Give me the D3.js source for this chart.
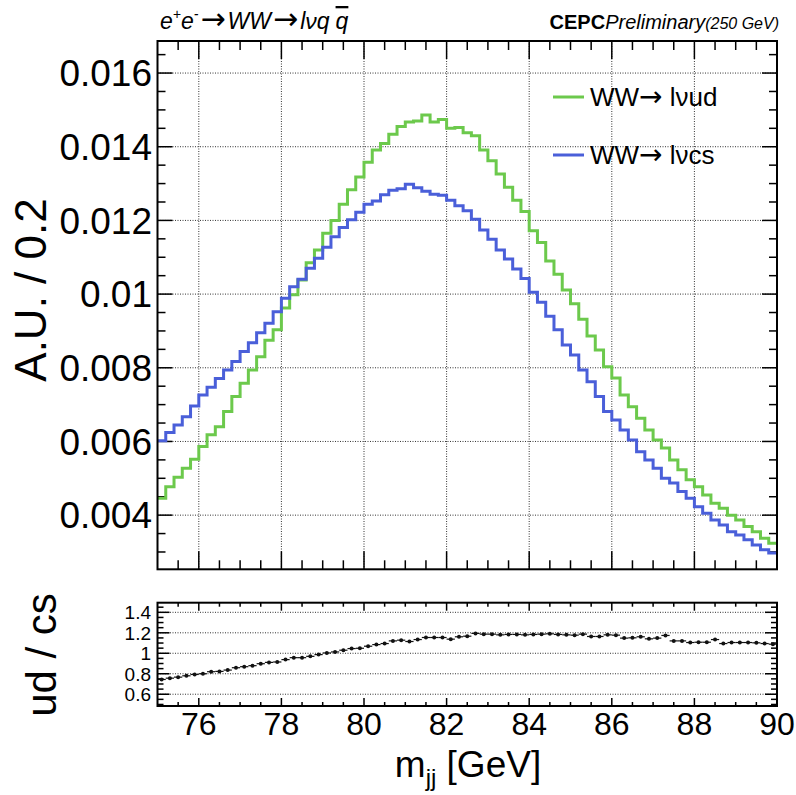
<!DOCTYPE html>
<html><head><meta charset="utf-8">
<script src="https://cdn.jsdelivr.net/npm/d3@7"></script>
<style>html,body{margin:0;padding:0;background:#fff;}svg{display:block;font-family:"Liberation Sans",Arial,Helvetica,sans-serif;}</style>
</head><body>
<svg id="c" width="796" height="795"></svg>
<script>
// ---- data ----
const binLow = 75, binWidth = 0.2;
const udValues = [0.00446,0.00477,0.00503,0.00527,0.00552,0.00586,0.00618,0.00640,0.00681,0.00722,
0.00758,0.00794,0.00830,0.00875,0.00903,0.00962,0.00998,0.01038,0.01085,0.01120,
0.01165,0.01200,0.01244,0.01283,0.01318,0.01358,0.01391,0.01409,0.01434,0.01455,
0.01467,0.01470,0.01486,0.01467,0.01474,0.01450,0.01452,0.01438,0.01430,0.01391,
0.01362,0.01326,0.01290,0.01255,0.01224,0.01172,0.01140,0.01090,0.01054,0.01011,
0.00974,0.00932,0.00886,0.00848,0.00803,0.00772,0.00726,0.00694,0.00663,0.00631,
0.00604,0.00582,0.00550,0.00523,0.00496,0.00477,0.00455,0.00432,0.00419,0.00400,
0.00387,0.00369,0.00355,0.00337,0.00324];
const csValues = [0.00602,0.00624,0.00645,0.00667,0.00696,0.00726,0.00747,0.00771,0.00794,0.00817,
0.00844,0.00868,0.00895,0.00921,0.00952,0.00989,0.01020,0.01040,0.01070,0.01097,
0.01127,0.01156,0.01181,0.01202,0.01222,0.01244,0.01253,0.01270,0.01282,0.01286,
0.01298,0.01289,0.01279,0.01271,0.01268,0.01255,0.01240,0.01226,0.01203,0.01174,
0.01149,0.01120,0.01095,0.01068,0.01042,0.01005,0.00978,0.00940,0.00903,0.00862,
0.00835,0.00794,0.00762,0.00722,0.00681,0.00658,0.00631,0.00604,0.00572,0.00550,
0.00527,0.00500,0.00487,0.00464,0.00446,0.00423,0.00405,0.00387,0.00373,0.00355,
0.00346,0.00333,0.00319,0.00306,0.00297];
const ratioValues = [0.744,0.757,0.767,0.780,0.793,0.800,0.820,0.823,0.836,0.859,
0.869,0.879,0.898,0.911,0.915,0.938,0.957,0.957,0.970,0.987,
1.003,1.013,1.030,1.046,1.049,1.069,1.085,1.095,1.121,1.128,
1.115,1.134,1.154,1.154,1.154,1.138,1.161,1.167,1.194,1.187,
1.187,1.180,1.184,1.184,1.180,1.184,1.187,1.190,1.184,1.180,
1.177,1.187,1.164,1.164,1.180,1.177,1.148,1.151,1.161,1.141,
1.148,1.174,1.121,1.121,1.105,1.108,1.108,1.134,1.095,1.105,
1.105,1.105,1.102,1.095,1.089];
const xTicks = [76,78,80,82,84,86,88,90];
const yTicks = [0.004,0.006,0.008,0.010,0.012,0.014,0.016];
const yTickLabels = ["0.004","0.006","0.008","0.01","0.012","0.014","0.016"];
const rTicks = [0.6,0.8,1.0,1.2,1.4];
const rTickLabels = ["0.6","0.8","1","1.2","1.4"];
const series = [
  {name:"l\u03bdud", values: udValues, color:"#6cc94c"},
  {name:"l\u03bdcs", values: csValues, color:"#4a5fd9"}
];

// ---- layout ----
const svg = d3.select("#c");
const L = 157.5, R = 777;
const mT = 41, mB = 569.3;
const rT = 602.7, rB = 706;
const x = d3.scaleLinear().domain([75,90]).range([L,R]);
const y = d3.scaleLinear().domain([0.00253,0.01687]).range([mB,mT]);
const yr = d3.scaleLinear().domain([0.485,1.494]).range([rB,rT]);
const gridStyle = s => s.attr("stroke","#333").attr("stroke-width",1).attr("stroke-dasharray","1,1.5");

// main grid
svg.append("g").selectAll("line").data(xTicks.filter(d=>d<90)).join("line")
  .attr("x1",d=>x(d)).attr("x2",d=>x(d)).attr("y1",mT).attr("y2",mB).call(gridStyle);
svg.append("g").selectAll("line").data(yTicks).join("line")
  .attr("x1",L).attr("x2",R).attr("y1",d=>y(d)).attr("y2",d=>y(d)).call(gridStyle);

// main ticks (all four sides, inward)
const xMinor = d3.range(75.5,90,0.5).filter(v=>Math.abs(v-Math.round(v/2)*2)>1e-6);
const tickG = svg.append("g").attr("stroke","#000").attr("stroke-width",1.5);
xTicks.forEach(v=>{
  tickG.append("line").attr("x1",x(v)).attr("x2",x(v)).attr("y1",mB).attr("y2",mB-18);
  tickG.append("line").attr("x1",x(v)).attr("x2",x(v)).attr("y1",mT).attr("y2",mT+18);
});
xMinor.forEach(v=>{
  tickG.append("line").attr("x1",x(v)).attr("x2",x(v)).attr("y1",mB).attr("y2",mB-9);
  tickG.append("line").attr("x1",x(v)).attr("x2",x(v)).attr("y1",mT).attr("y2",mT+9);
});
const yMinorAll = d3.range(0.0030,0.0169,0.0005);
yMinorAll.forEach(v=>{
  const major = yTicks.some(t=>Math.abs(t-v)<1e-7);
  const len = major?15:8;
  tickG.append("line").attr("x1",L).attr("x2",L+len).attr("y1",y(v)).attr("y2",y(v));
  tickG.append("line").attr("x1",R).attr("x2",R-len).attr("y1",y(v)).attr("y2",y(v));
});

// histograms
series.forEach(s=>{
  const pts = s.values.map((v,i)=>[binLow+i*binWidth, v]);
  pts.push([binLow+s.values.length*binWidth, s.values[s.values.length-1]]);
  const line = d3.line().x(d=>x(d[0])).y(d=>y(d[1])).curve(d3.curveStepAfter);
  svg.append("path").attr("d",line(pts)).attr("fill","none")
    .attr("stroke",s.color).attr("stroke-width",3);
});

// main frame
svg.append("rect").attr("x",L).attr("y",mT).attr("width",R-L).attr("height",mB-mT)
  .attr("fill","none").attr("stroke","#000").attr("stroke-width",2);

// y tick labels
svg.append("g").selectAll("text").data(yTicks).join("text")
  .attr("x",152).attr("y",d=>y(d)).attr("dy","0.36em").attr("text-anchor","end")
  .attr("font-size",37).text((d,i)=>yTickLabels[i]);
// y title
svg.append("text").attr("transform","translate(46,290) rotate(-90)")
  .attr("text-anchor","middle").attr("font-size",44).text("A.U. / 0.2");

// legend
const legY = [97,155];
series.forEach((s,i)=>{
  svg.append("line").attr("x1",553).attr("x2",584).attr("y1",legY[i]).attr("y2",legY[i])
    .attr("stroke",s.color).attr("stroke-width",3);
  const t = svg.append("text").attr("x",590).attr("y",legY[i]).attr("dy","0.36em").attr("font-size",26);
  t.append("tspan").text("WW");
  t.append("tspan").attr("font-family","DejaVu Sans").attr("font-size",28).text("\u2192");
  t.append("tspan").text(" " + s.name);
});

// header texts
const t1 = svg.append("text").attr("x",160).attr("y",29).attr("font-size",23).attr("font-style","italic");
const arrow = (sel, dy) => sel.append("tspan").attr("dy",dy).attr("dx",2).attr("font-family","DejaVu Sans")
  .attr("font-style","normal").attr("font-size",30).text("\u2192");
t1.append("tspan").text("e");
t1.append("tspan").attr("font-size",14).attr("dy",-10).text("+");
t1.append("tspan").attr("dy",10).text("e");
t1.append("tspan").attr("font-size",14).attr("dy",-10).text("-");
arrow(t1, 10);
t1.append("tspan").attr("dx",2).text("WW");
arrow(t1, 0);
t1.append("tspan").attr("dx",2).text("l\u03bdq");
t1.append("tspan").attr("dx",6).attr("text-decoration","overline").text("q");
const t2 = svg.append("text").attr("x",779).attr("y",29).attr("text-anchor","end").attr("font-size",20);
t2.append("tspan").attr("font-weight","bold").text("CEPC");
t2.append("tspan").attr("font-style","italic").text("Preliminary");
t2.append("tspan").attr("font-style","italic").attr("font-size",16).text("(250 GeV)");

// ---- ratio panel ----
svg.append("g").selectAll("line").data(rTicks).join("line")
  .attr("x1",L).attr("x2",R).attr("y1",d=>yr(d)).attr("y2",d=>yr(d)).call(gridStyle);
const rt = svg.append("g").attr("stroke","#000").attr("stroke-width",1.5);
xTicks.forEach(v=>{
  rt.append("line").attr("x1",x(v)).attr("x2",x(v)).attr("y1",rB).attr("y2",rB-8);
  rt.append("line").attr("x1",x(v)).attr("x2",x(v)).attr("y1",rT).attr("y2",rT+8);
});
xMinor.forEach(v=>{
  rt.append("line").attr("x1",x(v)).attr("x2",x(v)).attr("y1",rB).attr("y2",rB-4);
  rt.append("line").attr("x1",x(v)).attr("x2",x(v)).attr("y1",rT).attr("y2",rT+4);
});
d3.range(0.5,1.49,0.05).forEach(v=>{
  const major = rTicks.some(t=>Math.abs(t-v)<1e-6);
  const len = major?12:6;
  rt.append("line").attr("x1",L).attr("x2",L+len).attr("y1",yr(v)).attr("y2",yr(v));
  rt.append("line").attr("x1",R).attr("x2",R-len).attr("y1",yr(v)).attr("y2",yr(v));
});
// ratio points
const rg = svg.append("g");
ratioValues.forEach((v,i)=>{
  const x0 = x(binLow+i*binWidth), x1 = x(binLow+(i+1)*binWidth);
  rg.append("line").attr("x1",x0).attr("x2",x1).attr("y1",yr(v)).attr("y2",yr(v))
    .attr("stroke","#111").attr("stroke-width",1.2);
  rg.append("circle").attr("cx",(x0+x1)/2).attr("cy",yr(v)).attr("r",2).attr("fill","#111");
});
svg.append("rect").attr("x",L).attr("y",rT).attr("width",R-L).attr("height",rB-rT)
  .attr("fill","none").attr("stroke","#000").attr("stroke-width",2);
svg.append("g").selectAll("text").data(rTicks).join("text")
  .attr("x",151).attr("y",d=>yr(d)).attr("dy","0.36em").attr("text-anchor","end")
  .attr("font-size",19).text((d,i)=>rTickLabels[i]);
svg.append("text").attr("transform","translate(56,655) rotate(-90)")
  .attr("text-anchor","middle").attr("font-size",42).text("ud / cs");
svg.append("g").selectAll("text").data(xTicks).join("text")
  .attr("x",d=>x(d)).attr("y",723).attr("dy","0.36em").attr("text-anchor","middle")
  .attr("font-size",32).text(d=>d);
const xl = svg.append("text").attr("x",468).attr("y",777).attr("text-anchor","middle").attr("font-size",37);
xl.append("tspan").text("m");
xl.append("tspan").attr("font-size",24).attr("dy",9).text("jj");
xl.append("tspan").attr("dy",-9).text(" [GeV]");
</script>
</body></html>
